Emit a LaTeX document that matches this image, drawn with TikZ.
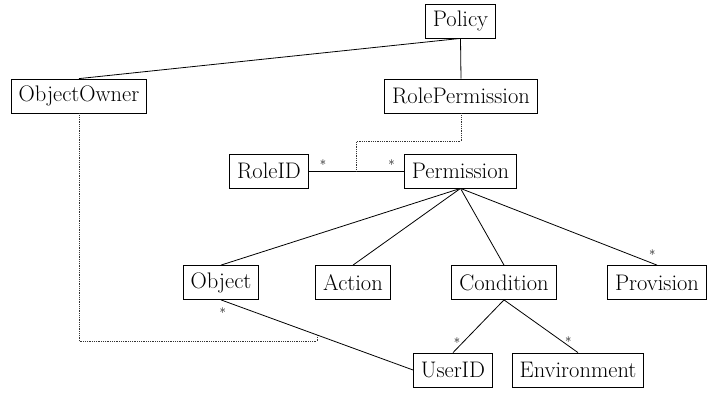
\documentclass[tikz,border=0pt]{standalone}
\usepackage{fontspec}
\usepackage{tikz}
\usetikzlibrary{positioning}

\begin{document}
\begin{tikzpicture}[
    x=1pt, y=-1pt,
    entity/.style={draw, line width=0.8pt, font=\fontsize{22.5}{26}\selectfont, minimum height=34pt, inner xsep=7.5pt},
    assoc/.style={line width=0.8pt},
    owner/.style={line width=0.8pt, densely dotted, draw=black!80},
    card/.style={font=\fontsize{13}{13}\selectfont, inner sep=1.5pt}
]
    \useasboundingbox (0,0) rectangle (713,392);

    % Classes
    \node[entity] (policy) at (460.5, 21) {Policy};
    \node[entity] (objowner) at (79, 96) {ObjectOwner};
    \node[entity] (roleperm) at (461, 96) {RolePermission};
    \node[entity] (roleid) at (269, 171) {RoleID};
    \node[entity] (perm) at (460.5, 171) {Permission};
    \node[entity] (object) at (221, 282.5) {Object};
    \node[entity] (action) at (353, 282.5) {Action};
    \node[entity] (condition) at (504, 282.5) {Condition};
    \node[entity] (provision) at (657, 282.5) {Provision};
    \node[entity] (userid) at (453, 370) {UserID};
    \node[entity] (env) at (578, 370) {Environment};

    % Associations
    \draw[assoc] (policy.south) -- (objowner.north);
    \draw[assoc] (policy.south) -- (roleperm.north);
    \draw[assoc] (roleid) -- node[card, above, pos=0.15]{*} coordinate (rolemid) node[card, above, pos=0.87]{*} (perm);
    \draw[assoc] (perm.south) -- (object.north);
    \draw[assoc] (perm.south) -- (action.north);
    \draw[assoc] (perm.south) -- (condition.north);
    \draw[assoc] (perm.south) -- node[card, above right, pos=0.95]{*} (provision.north);
    \draw[assoc] (condition.south) -- node[card, left, pos=0.82]{*} (userid.north);
    \draw[assoc] (condition.south) -- node[card, right, pos=0.8]{*} (env.north);
    \draw[assoc] (object.south) -- node[card, below=5pt, pos=0.01]{*} coordinate (objmid) (userid.west);

    % Association classes
    \draw[owner] (roleperm.south) -- ++(0, 28) -| (rolemid);
    \draw[owner] (objowner.south) -- ++(0, 228) -| (objmid);
\end{tikzpicture}
\end{document}
